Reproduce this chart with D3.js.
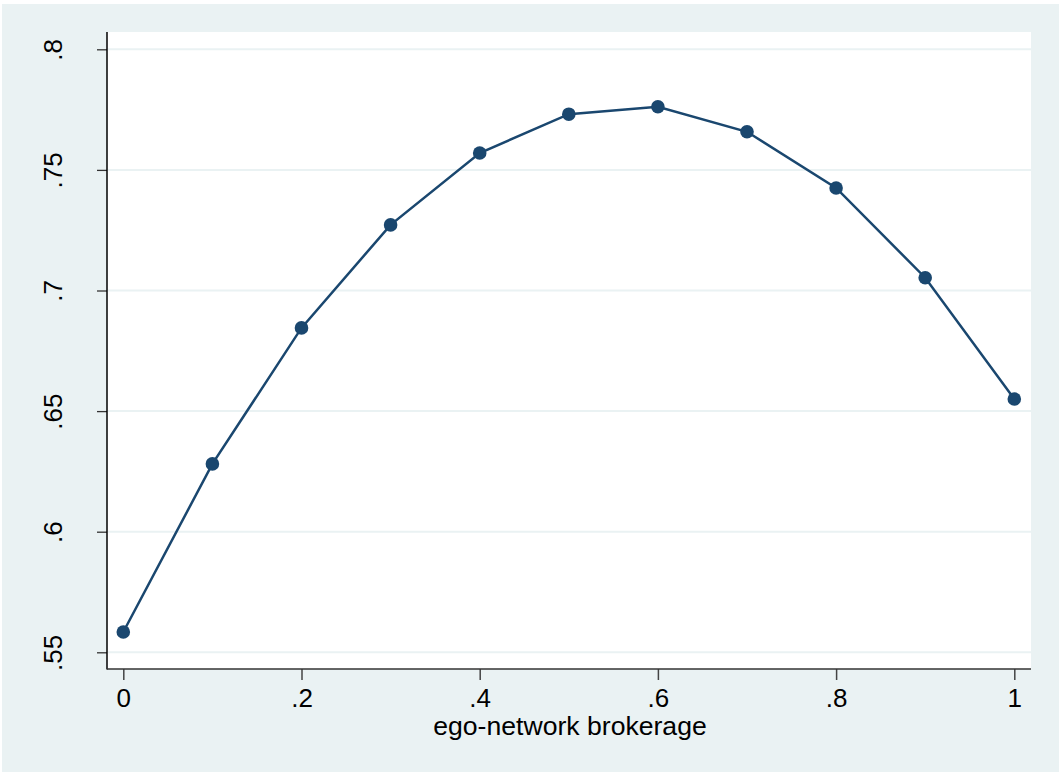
<!DOCTYPE html>
<html><head><meta charset="utf-8">
<script src="https://cdn.jsdelivr.net/npm/d3@7"></script>
<style>html,body{margin:0;padding:0;background:#fff;}svg{display:block;}</style>
</head><body>
<script>
const xValues = [0, 0.1, 0.2, 0.3, 0.4, 0.5, 0.6, 0.7, 0.8, 0.9, 1];
const yValues = [0.5584, 0.6281, 0.6845, 0.7272, 0.7570, 0.7731, 0.7762, 0.7658, 0.7425, 0.7053, 0.6550];
const xTicks = [0, 0.2, 0.4, 0.6, 0.8, 1];
const xTickLabels = ["0", ".2", ".4", ".6", ".8", "1"];
const yTicks = [0.55, 0.6, 0.65, 0.7, 0.75, 0.8];
const yTickLabels = [".55", ".6", ".65", ".7", ".75", ".8"];
const xTitle = "ego-network brokerage";

const W = 1059, H = 773;
const svg = d3.select("body").append("svg").attr("width", W).attr("height", H);
const font = "'Liberation Sans', Arial, sans-serif";

// outer background
svg.append("rect").attr("x", 2).attr("y", 4).attr("width", W - 2).attr("height", H - 5).attr("fill", "#eaf2f3");

const plot = {left: 107, top: 32, right: 1031, bottom: 669};
svg.append("rect").attr("x", plot.left).attr("y", plot.top)
  .attr("width", plot.right - plot.left).attr("height", plot.bottom - plot.top).attr("fill", "#ffffff");

const x = d3.scaleLinear().domain([0, 1]).range([123.3, 1014.3]);
const y = d3.scaleLinear().domain([0.55, 0.8]).range([652.3, 49.3]);

// gridlines
svg.append("g").selectAll("line").data(yTicks).join("line")
  .attr("x1", plot.left + 1).attr("x2", plot.right)
  .attr("y1", d => y(d)).attr("y2", d => y(d))
  .attr("stroke", "#eaf2f3").attr("stroke-width", 2);

// y axis
const yAxis = d3.axisLeft(y).tickValues(yTicks).tickSize(10).tickFormat((d, i) => yTickLabels[i]);
const gy = svg.append("g").attr("transform", `translate(${plot.left},0)`).call(yAxis);
gy.select(".domain").remove();
gy.selectAll(".tick line").attr("stroke", "#333").attr("stroke-width", 1.3);
gy.selectAll(".tick text").remove();
gy.selectAll(".tick").append("text")
  .attr("transform", "translate(-45,0) rotate(-90)")
  .attr("text-anchor", "middle").attr("dy", 0)
  .attr("fill", "#000").style("font-family", font).style("font-size", "26px")
  .text((d, i) => yTickLabels[i]);
svg.append("line").attr("x1", plot.left).attr("x2", plot.left).attr("y1", plot.top).attr("y2", plot.bottom + 0.5)
  .attr("stroke", "#000").attr("stroke-width", 1.5);

// x axis
const xAxis = d3.axisBottom(x).tickValues(xTicks).tickSize(11).tickFormat((d, i) => xTickLabels[i]);
const gx = svg.append("g").attr("transform", `translate(0,${plot.bottom})`).call(xAxis);
gx.select(".domain").remove();
gx.selectAll(".tick line").attr("stroke", "#444").attr("stroke-width", 1.5);
gx.selectAll(".tick text").attr("y", 0).attr("dy", 0).attr("transform", "translate(0,38)")
  .attr("fill", "#000").style("font-family", font).style("font-size", "26px");
svg.append("line").attr("x1", plot.left).attr("x2", plot.right).attr("y1", plot.bottom).attr("y2", plot.bottom)
  .attr("stroke", "#333").attr("stroke-width", 1.5);

// axis title
svg.append("text").attr("x", (plot.left + plot.right) / 2 + 1).attr("y", 735)
  .attr("text-anchor", "middle").attr("fill", "#000")
  .style("font-family", font).style("font-size", "26.6px").text(xTitle);

// line
const data = xValues.map((d, i) => ({x: d, y: yValues[i]}));
svg.append("path").datum(data)
  .attr("d", d3.line().x(d => x(d.x)).y(d => y(d.y)))
  .attr("fill", "none").attr("stroke", "#1a476f").attr("stroke-width", 2.5);
svg.append("g").selectAll("circle").data(data).join("circle")
  .attr("cx", d => x(d.x)).attr("cy", d => y(d.y)).attr("r", 6.8)
  .attr("fill", "#1a476f");
</script>
</body></html>
